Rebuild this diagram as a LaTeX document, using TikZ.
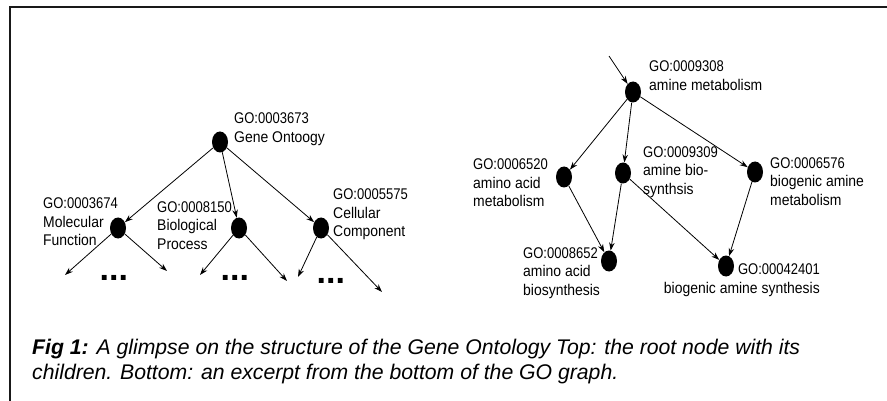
\documentclass[tikz,border=0pt]{standalone}
\usepackage{fontspec}
\setmainfont{Liberation Sans}
\newfontfamily\narrowfont[FakeStretch=0.9]{Liberation Sans}
\newfontfamily\idfont[FakeStretch=0.84]{Liberation Sans}
\usetikzlibrary{arrows.meta,shapes.geometric}
\begin{document}
\begin{tikzpicture}[x=1pt,y=-1pt,
  goterm/.style={ellipse, fill=black, draw=none, minimum width=16pt, minimum height=21pt, inner sep=0pt},
  golabel/.style={inner sep=0pt, align=left, font=\narrowfont\fontsize{15.5}{18.5}\selectfont, text=black},
  goarrow/.style={line width=0.8pt, draw=black, -{Stealth[length=8pt,width=5.5pt]}},
  godots/.style={inner sep=0pt, anchor=base west, font=\bfseries\fontsize{34}{34}\selectfont},
  frameline/.style={line width=1.6pt, draw=black!90}]
\useasboundingbox (0,0) rectangle (887,401);
\fill[white] (0,0) rectangle (887,401);
\draw[frameline] (887,7) -- (10,7) -- (10,401);

% ---------- left tree ----------
\node[goterm] (root) at (220,142) {};
\node[goterm] (mf) at (118,228) {};
\node[goterm] (bp) at (239,228) {};
\node[goterm] (cc) at (321,228) {};

\node[golabel, anchor=north west] (lroot) at (234,112.5) {{\idfont GO:0003673}\\Gene Ontoogy};
\node[golabel, anchor=north west] (lmf) at (43,197.5) {{\idfont GO:0003674}\\Molecular\\Function};
\node[golabel, anchor=north west] (lbp) at (157,201) {{\idfont GO:0008150}\\Biological\\Process};
\node[golabel, anchor=north west] (lcc) at (333,188.5) {{\idfont GO:0005575}\\Cellular\\Component};

\draw[goarrow] (root) -- (mf);
\draw[goarrow] (root) -- (bp);
\draw[goarrow] (root) -- (cc);

\coordinate (mf1) at (65,275);
\coordinate (mf2) at (167,271);
\coordinate (bp1) at (200,275);
\coordinate (bp2) at (287,281);
\coordinate (cc1) at (298,277);
\coordinate (cc2) at (382,292);
\draw[goarrow] (mf) -- (mf1);
\draw[goarrow] (mf) -- (mf2);
\draw[goarrow] (bp) -- (bp1);
\draw[goarrow] (bp) -- (bp2);
\draw[goarrow] (cc) -- (cc1);
\draw[goarrow] (cc) -- (cc2);

\node[godots] (d1) at (99.5,280) {...};
\node[godots] (d2) at (220.5,280) {...};
\node[godots] (d3) at (316.5,283) {...};

% ---------- right graph ----------
\coordinate (in) at (609,56);
\node[goterm] (am) at (633,92) {};
\node[goterm] (aam) at (564,177) {};
\node[goterm] (ab) at (623,173) {};
\node[goterm] (bam) at (755,172) {};
\node[goterm] (aab) at (609,261) {};
\node[goterm] (bas) at (726,266) {};

\node[golabel, anchor=north west] (lam) at (649,60.5) {{\idfont GO:0009308}\\amine metabolism};
\node[golabel, anchor=north west] (laam) at (473,158.5) {{\idfont GO:0006520}\\amino acid\\metabolism};
\node[golabel, anchor=north west] (lab) at (643,146) {{\idfont GO:0009309}\\amine bio-\\synthsis};
\node[golabel, anchor=north west] (lbam) at (770,157) {{\idfont GO:0006576}\\biogenic amine\\metabolism};
\node[golabel, anchor=north west] (laab) at (523,247) {{\idfont GO:0008652}\\amino acid\\biosynthesis};
\node[golabel, anchor=north east, align=right] (lbas) at (820,263.5) {{\idfont GO:00042401}\\biogenic amine synthesis};

\draw[goarrow] (in) -- (am);
\draw[goarrow] (am) -- (aam);
\draw[goarrow] (am) -- (ab);
\draw[goarrow] (am) -- (bam);
\draw[goarrow] (aam) -- (aab);
\draw[goarrow] (ab) -- (aab);
\draw[goarrow] (ab) -- (bas);
\draw[goarrow] (bam) -- (bas);

% ---------- caption ----------
\node[inner sep=0pt, anchor=north west, align=left,
      font=\itshape\fontsize{21.2}{25}\selectfont] (cap) at (32,339)
  {\textbf{Fig 1:} A glimpse on the structure of the Gene Ontology Top: the root node with its\\
   children. Bottom: an excerpt from the bottom of the GO graph.};
\end{tikzpicture}
\end{document}
